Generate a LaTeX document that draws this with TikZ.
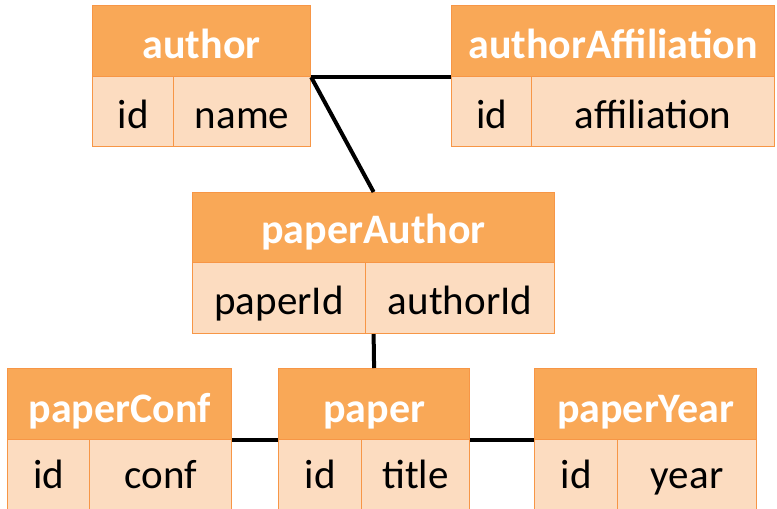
\documentclass[tikz,border=0pt]{standalone}
\usepackage{fontspec}
\setmainfont{Carlito}
\definecolor{hdrfill}{HTML}{F9A857}
\definecolor{rowfill}{HTML}{FCDCC0}
\definecolor{edge}{HTML}{F79646}
\tikzset{
  hdr/.style={draw=edge, fill=hdrfill, line width=1.2pt, inner sep=0pt, anchor=north west,
    text=white, font=\fontsize{42}{46}\selectfont\bfseries, text height=34pt, text depth=0pt},
  cell/.style={draw=edge, fill=rowfill, line width=1.2pt, inner sep=0pt, anchor=north west,
    text=black, font=\fontsize{41}{45}\selectfont, text height=34pt, text depth=0pt},
  lowhdr/.style={hdr, text height=36pt},
  lowcell/.style={cell, text height=26pt},
  link/.style={draw=black, line width=4pt}
}
\begin{document}
\begin{tikzpicture}[x=1pt,y=-1pt]
\useasboundingbox (0,0) rectangle (777,509);
% author
\node[hdr, minimum width=218pt, minimum height=71pt] (authorH) at (92,5) {author};
\node[cell, minimum width=81pt, minimum height=70pt] (authorA) at (92,76) {id};
\node[cell, minimum width=137pt, minimum height=70pt] (authorB) at (173,76) {name};
% authorAffiliation
\node[hdr, minimum width=323pt, minimum height=71pt] (affH) at (451,5) {authorAffiliation};
\node[cell, minimum width=80pt, minimum height=70pt] (affA) at (451,76) {id};
\node[cell, minimum width=243pt, minimum height=70pt] (affB) at (531,76) {affiliation};
% paperAuthor
\node[hdr, text height=32pt, minimum width=362pt, minimum height=70pt] (paH) at (192,192) {paperAuthor};
\node[cell, text height=32pt, minimum width=173pt, minimum height=71pt] (paA) at (192,262) {paperId};
\node[cell, text height=32pt, minimum width=189pt, minimum height=71pt] (paB) at (365,262) {authorId};
% paperConf
\node[lowhdr, minimum width=224pt, minimum height=71pt] (pcH) at (7,368) {paperConf};
\node[lowcell, minimum width=82pt, minimum height=72pt] (pcA) at (7,439) {id};
\node[lowcell, minimum width=142pt, minimum height=72pt] (pcB) at (89,439) {conf};
% paper
\node[lowhdr, minimum width=191pt, minimum height=71pt] (pH) at (278,368) {paper};
\node[lowcell, minimum width=83pt, minimum height=72pt] (pA) at (278,439) {id};
\node[lowcell, minimum width=108pt, minimum height=72pt] (pB) at (361,439) {title};
% paperYear
\node[lowhdr, minimum width=222pt, minimum height=71pt] (pyH) at (534,368) {paperYear};
\node[lowcell, minimum width=83pt, minimum height=72pt] (pyA) at (534,439) {id};
\node[lowcell, minimum width=139pt, minimum height=72pt] (pyB) at (617,439) {year};
% connectors
\draw[link] (authorH.south east) -- (affH.south west);
\draw[link] (authorH.south east) -- (paH.north);
\draw[link] (paH.north |- paB.south) -- (pH.north);
\draw[link] (pcH.south east) -- (pH.south west);
\draw[link] (pH.south east) -- (pyH.south west);
\end{tikzpicture}
\end{document}
